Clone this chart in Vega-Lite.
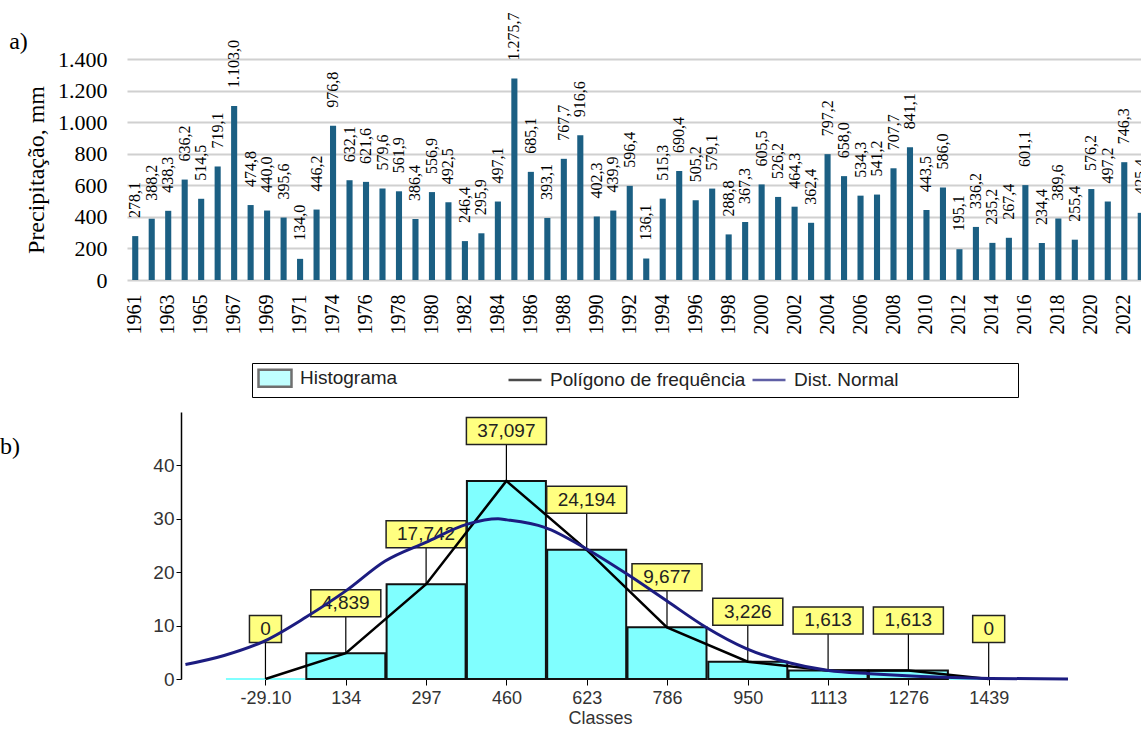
{
  "$schema": "https://vega.github.io/schema/vega-lite/v6.json",
  "padding": {"top": 12, "left": 0, "right": 0, "bottom": 0},
  "spacing": 28,
  "config": {
    "view": {"stroke": null},
    "locale": {"number": {"decimal": ",", "thousands": ".", "grouping": [3], "currency": ["R$", ""], "minus": "-"}},
    "font": "Liberation Sans"
  },
  "resolve": {
    "scale": {"fill": "independent", "stroke": "independent", "shape": "independent"},
    "legend": {"fill": "independent", "stroke": "independent", "shape": "independent"}
  },
  "datasets": {
    "precip": [
      {"year": 1961, "p": 278.1}, {"year": 1962, "p": 388.2}, {"year": 1963, "p": 438.3}, {"year": 1964, "p": 636.2},
      {"year": 1965, "p": 514.5}, {"year": 1966, "p": 719.1}, {"year": 1967, "p": 1103.0}, {"year": 1968, "p": 474.8},
      {"year": 1969, "p": 440.0}, {"year": 1970, "p": 395.6}, {"year": 1971, "p": 134.0}, {"year": 1973, "p": 446.2},
      {"year": 1974, "p": 976.8}, {"year": 1975, "p": 632.1}, {"year": 1976, "p": 621.6}, {"year": 1977, "p": 579.6},
      {"year": 1978, "p": 561.9}, {"year": 1979, "p": 386.4}, {"year": 1980, "p": 556.9}, {"year": 1981, "p": 492.5},
      {"year": 1982, "p": 246.4}, {"year": 1983, "p": 295.9}, {"year": 1984, "p": 497.1}, {"year": 1985, "p": 1275.7},
      {"year": 1986, "p": 685.1}, {"year": 1987, "p": 393.1}, {"year": 1988, "p": 767.7}, {"year": 1989, "p": 916.6},
      {"year": 1990, "p": 402.3}, {"year": 1991, "p": 439.9}, {"year": 1992, "p": 596.4}, {"year": 1993, "p": 136.1},
      {"year": 1994, "p": 515.3}, {"year": 1995, "p": 690.4}, {"year": 1996, "p": 505.2}, {"year": 1997, "p": 579.1},
      {"year": 1998, "p": 288.8}, {"year": 1999, "p": 367.3}, {"year": 2000, "p": 605.5}, {"year": 2001, "p": 526.2},
      {"year": 2002, "p": 464.3}, {"year": 2003, "p": 362.4}, {"year": 2004, "p": 797.2}, {"year": 2005, "p": 658.0},
      {"year": 2006, "p": 534.3}, {"year": 2007, "p": 541.2}, {"year": 2008, "p": 707.7}, {"year": 2009, "p": 841.1},
      {"year": 2010, "p": 443.5}, {"year": 2011, "p": 586.0}, {"year": 2012, "p": 195.1}, {"year": 2013, "p": 336.2},
      {"year": 2014, "p": 235.2}, {"year": 2015, "p": 267.4}, {"year": 2016, "p": 601.1}, {"year": 2017, "p": 234.4},
      {"year": 2018, "p": 389.6}, {"year": 2019, "p": 255.4}, {"year": 2020, "p": 576.2}, {"year": 2021, "p": 497.2},
      {"year": 2022, "p": 746.3}, {"year": 2023, "p": 425.4}
    ],
    "hist": [
      {"cls": -29.1, "val": 0}, {"cls": 134, "val": 4.839}, {"cls": 297, "val": 17.742}, {"cls": 460, "val": 37.097},
      {"cls": 623, "val": 24.194}, {"cls": 786, "val": 9.677}, {"cls": 950, "val": 3.226}, {"cls": 1113, "val": 1.613},
      {"cls": 1276, "val": 1.613}, {"cls": 1439, "val": 0}
    ],
    "normal": [
      {"cls": -191.5, "val": 2.7}, {"cls": -113, "val": 4.4}, {"cls": -29, "val": 7.2}, {"cls": 53.5, "val": 11.6},
      {"cls": 134, "val": 16.5}, {"cls": 214, "val": 22.1}, {"cls": 296.5, "val": 25.6}, {"cls": 381, "val": 29.0},
      {"cls": 443, "val": 30.0}, {"cls": 461, "val": 29.8}, {"cls": 537.5, "val": 28.4}, {"cls": 622, "val": 24.4},
      {"cls": 704, "val": 19.7}, {"cls": 784.5, "val": 14.7}, {"cls": 865, "val": 9.7}, {"cls": 947, "val": 5.7},
      {"cls": 1031.5, "val": 3.1}, {"cls": 1114, "val": 1.6}, {"cls": 1198, "val": 1.0}, {"cls": 1272.6, "val": 0.6},
      {"cls": 1399, "val": 0.2}, {"cls": 1600, "val": 0.0}
    ],
    "grid": [{"val": 0}, {"val": 10}, {"val": 20}, {"val": 30}, {"val": 40}]
  },
  "vconcat": [
    {
      "width": 1022,
      "height": 221,
      "data": {"name": "precip"},
      "title": {"text": "a)", "orient": "left", "anchor": "end", "frame": "group", "angle": 0, "align": "right", "baseline": "alphabetic", "offset": -22, "dy": -10, "font": "Liberation Serif", "fontSize": 24, "fontWeight": "normal", "color": "#000"},
      "encoding": {
        "x": {
          "field": "year", "type": "ordinal",
          "scale": {"paddingInner": 0.63, "paddingOuter": 0.315},
          "axis": {
            "title": null, "domain": false, "ticks": false, "labelAngle": -90, "labelPadding": 14,
            "labelFont": "Liberation Serif", "labelFontSize": 20, "labelColor": "#000", "labelOverlap": false,
            "values": [1961, 1963, 1965, 1967, 1969, 1971, 1974, 1976, 1978, 1980, 1982, 1984, 1986, 1988, 1990, 1992, 1994, 1996, 1998, 2000, 2002, 2004, 2006, 2008, 2010, 2012, 2014, 2016, 2018, 2020, 2022]
          }
        },
        "y": {
          "field": "p", "type": "quantitative",
          "scale": {"domain": [0, 1400], "nice": false},
          "axis": {
            "title": "Precipitação, mm", "titleFont": "Liberation Serif", "titleFontSize": 24, "titleFontWeight": "normal", "titleColor": "#000", "titlePadding": 9,
            "labelFont": "Liberation Serif", "labelFontSize": 22, "labelColor": "#000", "labelPadding": 20,
            "values": [0, 200, 400, 600, 800, 1000, 1200, 1400], "format": ",d",
            "domain": false, "ticks": false, "gridColor": "#d0d0d0", "gridWidth": 2
          }
        }
      },
      "layer": [
        {"mark": {"type": "bar", "color": "#1b5f83"}},
        {
          "mark": {"type": "text", "angle": 270, "align": "left", "baseline": "middle", "dx": 18, "font": "Liberation Serif", "fontSize": 16, "color": "#000"},
          "encoding": {"text": {"field": "p", "type": "quantitative", "format": ",.1f"}}
        }
      ]
    },
    {
      "width": 946,
      "height": 267,
      "title": {"text": "b)", "orient": "left", "anchor": "end", "frame": "group", "angle": 0, "align": "right", "baseline": "alphabetic", "offset": 87, "dy": 42, "font": "Liberation Serif", "fontSize": 24, "fontWeight": "normal", "color": "#000"},
      "encoding": {
        "x": {
          "field": "cls", "type": "quantitative",
          "scale": {"domain": [-300, 1600], "nice": false, "zero": false},
          "axis": {
            "title": "Classes", "titleFont": "Liberation Sans", "titleFontSize": 18, "titleFontWeight": "normal", "titleColor": "#333", "titlePadding": 2,
            "values": [-29.1, 134, 297, 460, 623, 786, 950, 1113, 1276, 1439],
            "labelExpr": "datum.value < 0 ? '-29.10' : '' + datum.value",
            "labelFont": "Liberation Sans", "labelFontSize": 18, "labelColor": "#333", "labelPadding": 4, "labelOverlap": false, "labelFlush": false,
            "domain": false, "ticks": true, "tickColor": "#000", "tickSize": 6, "grid": false
          }
        },
        "y": {
          "field": "val", "type": "quantitative",
          "scale": {"domain": [0, 50], "nice": false},
          "axis": {
            "title": null, "offset": -54, "values": [0, 10, 20, 30, 40],
            "labelFont": "Liberation Sans", "labelFontSize": 19, "labelColor": "#333", "labelPadding": 2,
            "domain": true, "domainColor": "#000", "domainWidth": 1.5, "ticks": true, "tickColor": "#000", "tickSize": 5, "grid": false
          }
        }
      },
      "layer": [
        {
          "data": {"name": "grid"},
          "transform": [{"filter": "datum.val > 0"}],
          "mark": {"type": "rule", "color": "#000", "strokeWidth": 1.5, "strokeDash": [8, 5]},
          "encoding": {"x": {"datum": -191.5}, "x2": {"datum": 1600}}
        },
        {
          "data": {"name": "grid"},
          "transform": [{"filter": "datum.val == 0"}],
          "mark": {"type": "rule", "color": "#000", "strokeWidth": 2},
          "encoding": {"x": {"datum": -191.5}, "x2": {"datum": 1600}}
        },
        {
          "data": {"name": "hist"},
          "mark": {"type": "bar", "orient": "vertical", "width": 79, "strokeWidth": 2, "fill": "#80ffff"},
          "encoding": {
            "stroke": {"condition": {"test": "datum.val == 0", "value": "#80ffff"}, "value": "#111111"}
          }
        },
        {
          "data": {"name": "hist"},
          "mark": {"type": "rule", "color": "#000", "strokeWidth": 1.2, "y2Offset": -37},
          "encoding": {"y2": {"field": "val"}}
        },
        {
          "data": {"name": "hist"},
          "transform": [{"filter": "datum.val == 0"}],
          "mark": {"type": "bar", "orient": "vertical", "width": 32, "yOffset": -63.5, "y2Offset": -36.5, "fill": "#ffff80", "stroke": "#222", "strokeWidth": 1.5},
          "encoding": {"y2": {"field": "val"}}
        },
        {
          "data": {"name": "hist"},
          "transform": [{"filter": "datum.val > 0 && datum.val < 10"}],
          "mark": {"type": "bar", "orient": "vertical", "width": 70, "yOffset": -63.5, "y2Offset": -36.5, "fill": "#ffff80", "stroke": "#222", "strokeWidth": 1.5},
          "encoding": {"y2": {"field": "val"}}
        },
        {
          "data": {"name": "hist"},
          "transform": [{"filter": "datum.val >= 10"}],
          "mark": {"type": "bar", "orient": "vertical", "width": 80, "yOffset": -63.5, "y2Offset": -36.5, "fill": "#ffff80", "stroke": "#222", "strokeWidth": 1.5},
          "encoding": {"y2": {"field": "val"}}
        },
        {
          "data": {"name": "hist"},
          "mark": {"type": "text", "dy": -50, "baseline": "middle", "font": "Liberation Sans", "fontSize": 19, "color": "#222"},
          "encoding": {"text": {"field": "val", "type": "quantitative", "format": ".3~f"}}
        },
        {
          "data": {"name": "hist"},
          "mark": {"type": "line", "strokeWidth": 2.5, "color": "#000000"}
        },
        {
          "data": {"name": "normal"},
          "mark": {"type": "line", "strokeWidth": 3, "interpolate": "monotone", "color": "#1c1c80"}
        },
        {
          "data": {"name": "hist"},
          "transform": [{"filter": "false"}],
          "mark": {"type": "point", "filled": false},
          "encoding": {
            "fill": {
              "field": "series", "type": "nominal",
              "scale": {"domain": ["Histograma", "Polígono de frequência", "Dist. Normal"], "range": ["#80ffff", "transparent", "transparent"]},
              "legend": {
                "orient": "none", "legendX": 125, "legendY": -49, "direction": "horizontal", "columns": 3, "gridAlign": "each",
                "columnPadding": 1, "padding": 5, "strokeColor": "#000", "fillColor": "#fff", "title": null,
                "labelFont": "Liberation Sans", "labelFontSize": 19, "labelColor": "#222", "labelOffset": 15, "labelLimit": 600,
                "symbolSize": 289, "symbolOffset": 8, "symbolStrokeWidth": 2.5,
                "labelExpr": "datum.label === 'Histograma' ? 'Histograma\u2002\u2002\u2002\u2002\u2002\u2002\u2002\u2002\u2002\u2002\u2002\u200b' : datum.label === 'Dist. Normal' ? 'Dist. Normal\u2002\u2002\u2002\u2002\u2002\u2002\u2002\u2002\u2002\u2002\u2002\u2002\u200b' : datum.label"
              }
            },
            "stroke": {
              "field": "series", "type": "nominal",
              "scale": {"domain": ["Histograma", "Polígono de frequência", "Dist. Normal"], "range": ["#333333", "#000000", "#1c1c80"]},
              "legend": {
                "orient": "none", "legendX": 125, "legendY": -49, "direction": "horizontal", "columns": 3, "gridAlign": "each",
                "columnPadding": 1, "padding": 5, "strokeColor": "#000", "fillColor": "#fff", "title": null,
                "labelFont": "Liberation Sans", "labelFontSize": 19, "labelColor": "#222", "labelOffset": 15, "labelLimit": 600,
                "symbolSize": 289, "symbolOffset": 8, "symbolStrokeWidth": 2.5,
                "labelExpr": "datum.label === 'Histograma' ? 'Histograma\u2002\u2002\u2002\u2002\u2002\u2002\u2002\u2002\u2002\u2002\u2002\u200b' : datum.label === 'Dist. Normal' ? 'Dist. Normal\u2002\u2002\u2002\u2002\u2002\u2002\u2002\u2002\u2002\u2002\u2002\u2002\u200b' : datum.label"
              }
            },
            "shape": {
              "field": "series", "type": "nominal",
              "scale": {"domain": ["Histograma", "Polígono de frequência", "Dist. Normal"], "range": ["M-1.94,-1L1.94,-1L1.94,1L-1.94,1Z", "M-1.94,0L1.94,0", "M-1.94,0L1.94,0"]},
              "legend": {
                "orient": "none", "legendX": 125, "legendY": -49, "direction": "horizontal", "columns": 3, "gridAlign": "each",
                "columnPadding": 1, "padding": 5, "strokeColor": "#000", "fillColor": "#fff", "title": null,
                "labelFont": "Liberation Sans", "labelFontSize": 19, "labelColor": "#222", "labelOffset": 15, "labelLimit": 600,
                "symbolSize": 289, "symbolOffset": 8, "symbolStrokeWidth": 2.5,
                "labelExpr": "datum.label === 'Histograma' ? 'Histograma\u2002\u2002\u2002\u2002\u2002\u2002\u2002\u2002\u2002\u2002\u2002\u200b' : datum.label === 'Dist. Normal' ? 'Dist. Normal\u2002\u2002\u2002\u2002\u2002\u2002\u2002\u2002\u2002\u2002\u2002\u2002\u200b' : datum.label"
              }
            }
          }
        }
      ]
    }
  ]
}
